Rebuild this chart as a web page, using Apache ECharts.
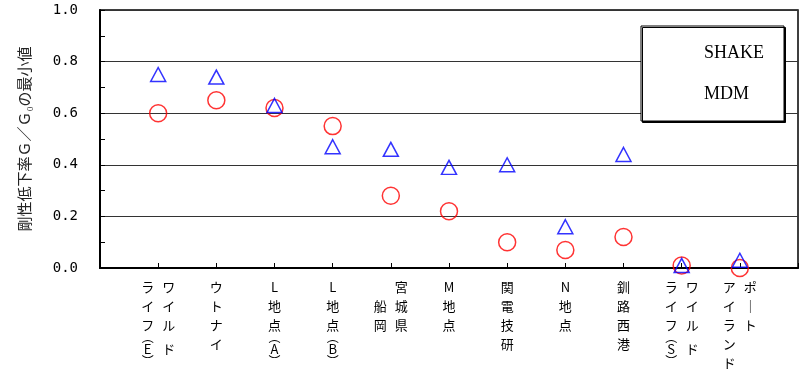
<!DOCTYPE html>
<html>
<head>
<meta charset="utf-8">
<script src="https://cdn.jsdelivr.net/npm/echarts@6/dist/echarts.min.js"></script>
<style>
    html, body { margin: 0; padding: 0; background: #fff; }
    #main { width: 810px; height: 370px; }
</style>
</head>
<body>
<div id="main"></div>
<script>
    // 地点名（横書き）と縦書きの列（右の列から順）
    const categories = ['ワイルドライフ(E)', 'ウトナイ', 'L地点(A)', 'L地点(B)', '宮城県船岡', 'M地点', '関電技研', 'N地点', '釧路西港', 'ワイルドライフ(S)', 'ポートアイランド'];
    const labelColumns = [
        ['ワイルド', 'ライフ(E)'],
        ['ウトナイ'],
        ['L地点(A)'],
        ['L地点(B)'],
        ['宮城県', '　船岡'],
        ['M地点'],
        ['関電技研'],
        ['N地点'],
        ['釧路西港'],
        ['ワイルド', 'ライフ(S)'],
        ['ポート', 'アイランド']
    ];
    const seriesNames = ['SHAKE', 'MDM'];
    const shakeValues = [0.75, 0.74, 0.63, 0.47, 0.46, 0.39, 0.40, 0.16, 0.44, 0.01, 0.03];
    const mdmValues = [0.60, 0.65, 0.62, 0.55, 0.28, 0.22, 0.10, 0.07, 0.12, 0.01, 0.00];
    const yTicks = [0, 0.2, 0.4, 0.6, 0.8, 1.0];

    // 両端に空の枠を置いて、目盛を一つずつ内側にずらす
    const axisCategories = ['_start', ...categories, '_end'];

    function tokenize(col) {
        const tokens = [];
        let i = 0;
        while (i < col.length) {
            if (col[i] === '(') {
                tokens.push({ paren: col[i + 1] });
                i += 3;
            } else {
                tokens.push(col[i] === 'ー' ? '｜' : col[i]);
                i++;
            }
        }
        return tokens;
    }

    function verticalLabel(value) {
        const idx = categories.indexOf(value);
        if (idx < 0) return '';
        const cols = labelColumns[idx].map(tokenize).reverse();
        const rows = Math.max(...cols.map(c => c.length));
        const lines = [];
        for (let r = 0; r < rows; r++) {
            const cells = cols.map(c => c[r]);
            const hasParen = cells.some(t => t && t.paren);
            if (hasParen) lines.push(cells.map(t => (t && t.paren) ? '{arc|︵}' : '{gap| }').join(''));
            lines.push(cells.map(t => '{c|' + (t ? (t.paren || t) : '　') + '}').join(''));
            if (hasParen) lines.push(cells.map(t => (t && t.paren) ? '{arc|︶}' : '{gap| }').join(''));
        }
        return lines.join('\n');
    }

    const chart = echarts.init(document.getElementById('main'));
    const option = {
        animation: false,
        backgroundColor: '#fff',
        grid: {
            left: 100,
            right: 12,
            top: 10,
            bottom: 102,
            show: true,
            borderColor: '#000',
            borderWidth: 1.5
        },
        legend: {
            data: seriesNames,
            orient: 'vertical',
            left: 641,
            top: 26,
            padding: [18, 20, 18, 17],
            itemWidth: 40,
            itemHeight: 14,
            itemGap: 23,
            backgroundColor: '#fff',
            borderColor: '#000',
            borderWidth: 1,
            shadowColor: '#000',
            shadowOffsetX: 1.5,
            shadowOffsetY: 1.5,
            shadowBlur: 0,
            itemStyle: { opacity: 0 },
            selectedMode: false,
            textStyle: {
                fontFamily: 'Liberation Serif',
                fontSize: 18,
                color: '#000'
            }
        },
        xAxis: {
            type: 'category',
            data: axisCategories,
            boundaryGap: false,
            axisLine: { lineStyle: { color: '#000', width: 2 } },
            axisTick: { inside: true, length: 5, lineStyle: { color: '#000' } },
            axisLabel: {
                interval: 0,
                margin: 10,
                formatter: verticalLabel,
                rich: {
                    c: { fontFamily: 'Noto Sans CJK JP', fontSize: 13, lineHeight: 19, width: 21, align: 'center', color: '#000' },
                    arc: { fontFamily: 'Noto Sans CJK JP', fontSize: 12, lineHeight: 5, width: 21, align: 'center', color: '#000' },
                    gap: { fontSize: 12, lineHeight: 5, width: 21 }
                }
            },
            splitLine: { show: false }
        },
        yAxis: {
            type: 'value',
            min: yTicks[0],
            max: yTicks[yTicks.length - 1],
            interval: 0.2,
            name: '剛性低下率Ｇ／Ｇ₀の最小値',
            nameLocation: 'middle',
            nameGap: 68,
            nameTextStyle: {
                fontFamily: 'Noto Sans CJK JP',
                fontSize: 15,
                color: '#222'
            },
            axisLine: { show: true, lineStyle: { color: '#000', width: 2 } },
            axisTick: { show: true, inside: true, length: 5, lineStyle: { color: '#000' } },
            minorTick: { show: true, splitNumber: 2, length: 5, lineStyle: { color: '#000' } },
            axisLabel: {
                margin: 22,
                padding: [4, 0, 0, 0],
                fontFamily: 'DejaVu Sans Mono',
                fontSize: 14,
                color: '#000',
                formatter: v => v.toFixed(1)
            },
            splitLine: { show: true, lineStyle: { color: '#333', width: 1 } }
        },
        series: [
            {
                name: 'MDM',
                type: 'scatter',
                symbol: 'circle',
                symbolSize: 17,
                clip: false,
                itemStyle: { color: 'rgba(0,0,0,0)', borderColor: '#ff0000', borderWidth: 1.5 },
                data: categories.map((c, i) => [c, mdmValues[i]])
            },
            {
                name: 'SHAKE',
                type: 'scatter',
                symbol: 'triangle',
                symbolSize: [15, 14],
                clip: false,
                itemStyle: { color: 'rgba(0,0,0,0)', borderColor: '#0000ff', borderWidth: 1.5 },
                data: categories.map((c, i) => [c, shakeValues[i]])
            }
        ]
    };
    chart.setOption(option);
</script>
</body>
</html>
